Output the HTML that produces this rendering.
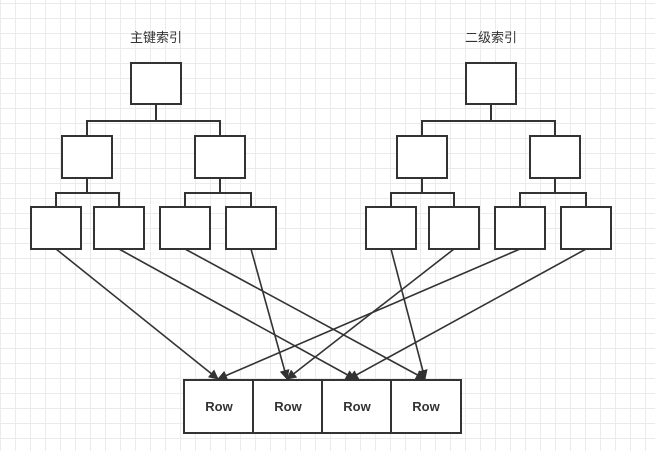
<!DOCTYPE html>
<html><head><meta charset="utf-8"><style>
html,body{margin:0;padding:0;background:#fff}
body{width:655px;height:451px;overflow:hidden;
background-image:linear-gradient(#ebebeb 1px,transparent 1px),linear-gradient(90deg,#ebebeb 1px,transparent 1px);
background-size:15px 15px;background-position:0 3px}
</style></head><body>
<svg width="655" height="451" style="position:absolute;left:0;top:0">
<defs><marker id="a" markerWidth="10" markerHeight="10" refX="9" refY="5" orient="auto" markerUnits="userSpaceOnUse"><path d="M0,0 L10,5 L0,10 Z" fill="#333"/></marker></defs>
<g font-family="Liberation Sans, Noto Sans CJK SC, sans-serif" font-size="13" fill="#333" text-anchor="middle">
<text x="156" y="42">主键索引</text><text x="491" y="42">二级索引</text>
</g>
<g fill="#fff" stroke="#333" stroke-width="2">
<rect x="131" y="63" width="50" height="41"/>
<rect x="62" y="136" width="50" height="42"/><rect x="195" y="136" width="50" height="42"/>
<rect x="31" y="207" width="50" height="42"/><rect x="94" y="207" width="50" height="42"/><rect x="160" y="207" width="50" height="42"/><rect x="226" y="207" width="50" height="42"/>
<rect x="466" y="63" width="50" height="41"/>
<rect x="397" y="136" width="50" height="42"/><rect x="530" y="136" width="50" height="42"/>
<rect x="366" y="207" width="50" height="42"/><rect x="429" y="207" width="50" height="42"/><rect x="495" y="207" width="50" height="42"/><rect x="561" y="207" width="50" height="42"/>
<rect x="184" y="380" width="69" height="53"/><rect x="253" y="380" width="69" height="53"/><rect x="322" y="380" width="69" height="53"/><rect x="391" y="380" width="70" height="53"/>
</g>
<g fill="none" stroke="#333" stroke-width="2">
<path d="M156,104V121M87,136V121H220V136M87,178V193M56,207V193H119V207M220,178V193M185,207V193H251V207"/>
<path d="M491,104V121M422,136V121H555V136M422,178V193M391,207V193H454V207M555,178V193M520,207V193H586V207"/>
</g>
<g stroke="#333" stroke-width="1.6" marker-end="url(#a)">
<line x1="56" y1="249" x2="218" y2="379"/>
<line x1="119" y1="249" x2="355" y2="379"/>
<line x1="185" y1="249" x2="425" y2="379"/>
<line x1="251" y1="249" x2="287" y2="379"/>
<line x1="391" y1="249" x2="425" y2="379"/>
<line x1="454" y1="249" x2="287" y2="379"/>
<line x1="520" y1="249" x2="218" y2="379"/>
<line x1="586" y1="249" x2="349" y2="379"/>
</g>
<g font-family="Liberation Sans, sans-serif" font-size="13" font-weight="bold" fill="#333" text-anchor="middle">
<text x="219" y="411">Row</text><text x="288" y="411">Row</text><text x="357" y="411">Row</text><text x="426" y="411">Row</text>
</g>
</svg>
</body></html>
